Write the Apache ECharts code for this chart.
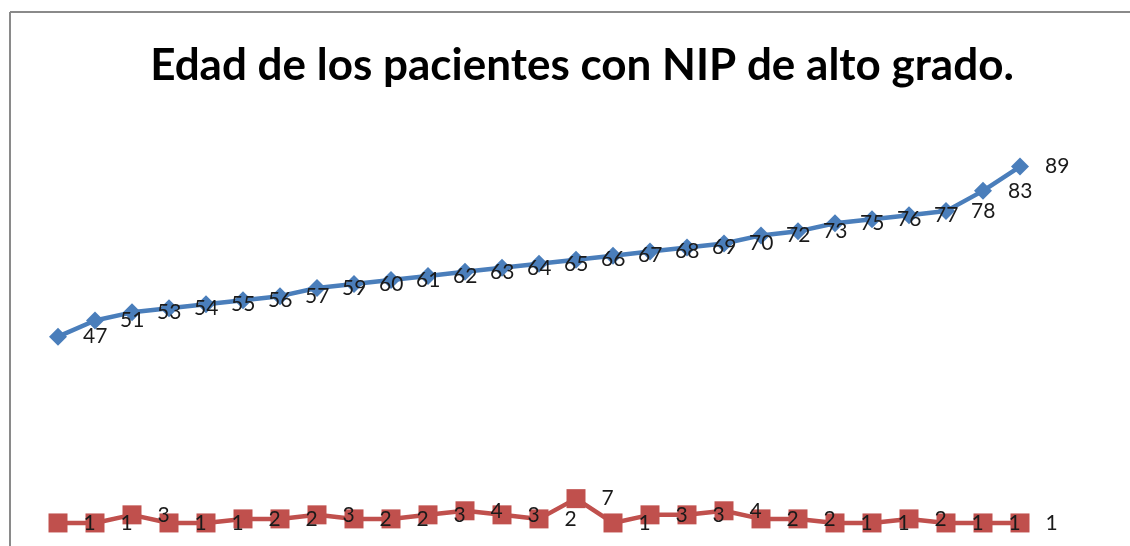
<!DOCTYPE html>
<html>
<head>
<meta charset="utf-8">
<script src="https://cdn.jsdelivr.net/npm/echarts@6/dist/echarts.min.js"></script>
<style>
html,body{margin:0;padding:0;background:#fff;}
#chart{width:1130px;height:546px;}
</style>
</head>
<body>
<div id="chart"></div>
<script>
var titleText = 'Edad de los pacientes con NIP de alto grado.';
var categories = ['1','2','3','4','5','6','7','8','9','10','11','12','13','14','15','16','17','18','19','20','21','22','23','24','25','26','27'];
var edad = [47,51,53,54,55,56,57,59,60,61,62,63,64,65,66,67,68,69,70,72,73,75,76,77,78,83,89];
var pacientes = [1,1,3,1,1,2,2,3,2,2,3,4,3,2,7,1,3,3,4,2,2,1,1,2,1,1,1];

var chart = echarts.init(document.getElementById('chart'));
chart.setOption({
  animation: false,
  backgroundColor: '#ffffff',
  title: {
    text: titleText,
    left: 577,
    textAlign: 'center',
    top: 39,
    textStyle: {fontFamily: 'Lato', fontWeight: 'bold', fontSize: 44, color: '#000'}
  },
  graphic: [
    {type: 'line', shape: {x1: 10, y1: 12, x2: 1130, y2: 12}, style: {stroke: '#8a8a8a', lineWidth: 2}},
    {type: 'line', shape: {x1: 10, y1: 12, x2: 10, y2: 546}, style: {stroke: '#8a8a8a', lineWidth: 2}}
  ],
  grid: {left: 58, right: 110, top: 122, bottom: 19, containLabel: false},
  xAxis: {
    type: 'category', data: categories, boundaryGap: false,
    axisLine: {show: false}, axisTick: {show: false}, axisLabel: {show: false}, splitLine: {show: false}
  },
  yAxis: {
    type: 'value', min: 0, max: 100,
    axisLine: {show: false}, axisTick: {show: false}, axisLabel: {show: false}, splitLine: {show: false}
  },
  series: [
    {
      name: 'Edad', type: 'line', data: edad,
      symbol: 'diamond', symbolSize: 18,
      itemStyle: {color: '#4a7ebb'},
      lineStyle: {color: '#4a7ebb', width: 4.5},
      label: {show: true, position: 'right', distance: 16, fontFamily: 'Lato', fontSize: 21, color: '#1a1a1a'}
    },
    {
      name: 'Pacientes', type: 'line', data: pacientes,
      symbol: 'rect', symbolSize: 19,
      itemStyle: {color: '#c0504d'},
      lineStyle: {color: '#c0504d', width: 4.5},
      label: {show: true, position: 'right', distance: 16, fontFamily: 'Lato', fontSize: 21, color: '#1a1a1a'}
    }
  ]
});
</script>
</body>
</html>
